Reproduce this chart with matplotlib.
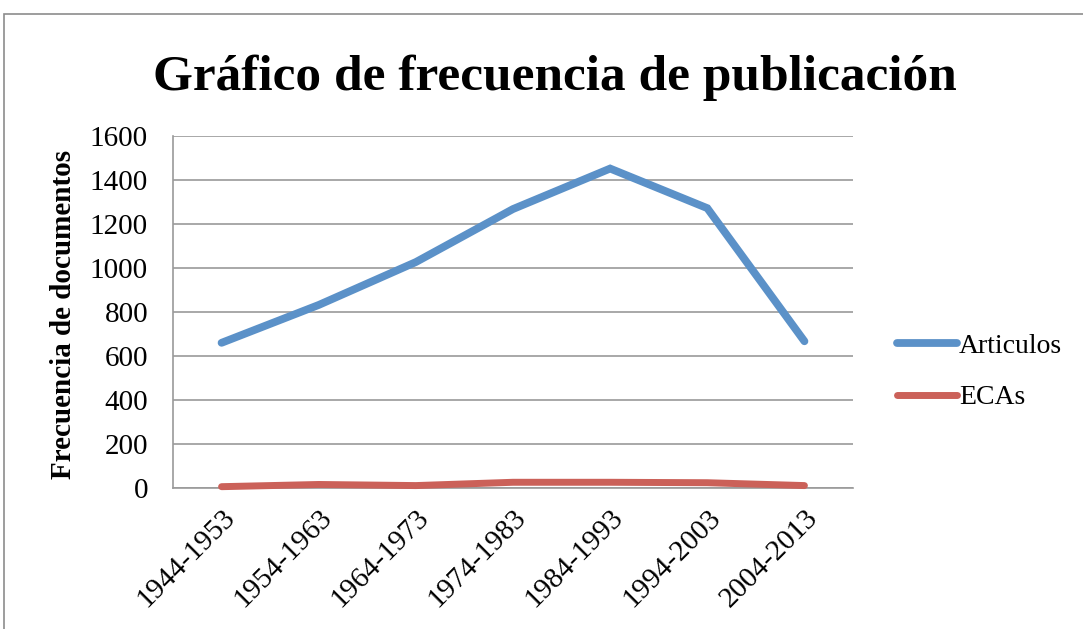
import matplotlib
matplotlib.use("Agg")
import matplotlib.pyplot as plt
from matplotlib.patches import Rectangle

categories = ["1944-1953", "1954-1963", "1964-1973", "1974-1983",
              "1984-1993", "1994-2003", "2004-2013"]
articulos = [660, 832, 1027, 1268, 1452, 1272, 667]
ecas = [6, 16, 11, 26, 26, 24, 11]
yticks = [0, 200, 400, 600, 800, 1000, 1200, 1400, 1600]

SERIF = ["Liberation Serif", "DejaVu Serif"]
BLUE = "#5B91C8"
RED = "#CB6159"
GRID = "#9A9A9A"

fig = plt.figure(figsize=(10.83, 6.29), dpi=100)
W, H = 1083, 629

# outer chart frame
fig.patches.append(Rectangle((4 / W, -0.1), 1.2, 1 - 14 / H + 0.1,
                             transform=fig.transFigure, fill=False,
                             edgecolor="#8C8C8C", linewidth=1.2))

ax = fig.add_axes([173 / W, 1 - 488 / H, (853 - 173) / W, (488 - 136) / H])
x = list(range(len(categories)))
ax.plot(x, articulos, color=BLUE, linewidth=5.6, solid_capstyle="round",
        solid_joinstyle="miter", label="Articulos", clip_on=False, zorder=3)
ax.plot(x, ecas, color=RED, linewidth=5.0, solid_capstyle="round",
        label="ECAs", clip_on=False, zorder=3)

ax.set_xlim(-0.5, len(categories) - 0.5)
ax.set_ylim(0, 1600)
ax.set_yticks(yticks)
ax.set_yticklabels([str(v) for v in yticks], fontfamily=SERIF, fontsize=21)
ax.set_xticks(x)
ax.set_xticklabels(categories, fontfamily=SERIF, fontsize=21, rotation=45,
                   ha="right", rotation_mode="anchor")
ax.tick_params(axis="both", length=0)
ax.tick_params(axis="y", pad=18)
ax.tick_params(axis="x", pad=12)
ax.grid(axis="y", color=GRID, linewidth=1.2)
ax.set_axisbelow(True)
for s in ["top", "right"]:
    ax.spines[s].set_visible(False)
for s in ["left", "bottom"]:
    ax.spines[s].set_color(GRID)
    ax.spines[s].set_linewidth(1.2)

ax.set_ylabel("Frecuencia de documentos", fontfamily=SERIF, fontsize=21,
              fontweight="bold")
ax.yaxis.set_label_coords(-0.141, 0.494)

fig.text(555 / W, 1 - 90 / H, "Gráfico de frecuencia de publicación",
         ha="center", va="baseline", fontfamily=SERIF, fontsize=37,
         fontweight="bold")

leg = ax.legend(loc="center left", bbox_to_anchor=(1.028, 0.33), frameon=False,
                prop={"family": SERIF, "size": 20}, handlelength=2.15,
                handletextpad=0.08, labelspacing=0.95)

fig.savefig("out.png", dpi=100)
